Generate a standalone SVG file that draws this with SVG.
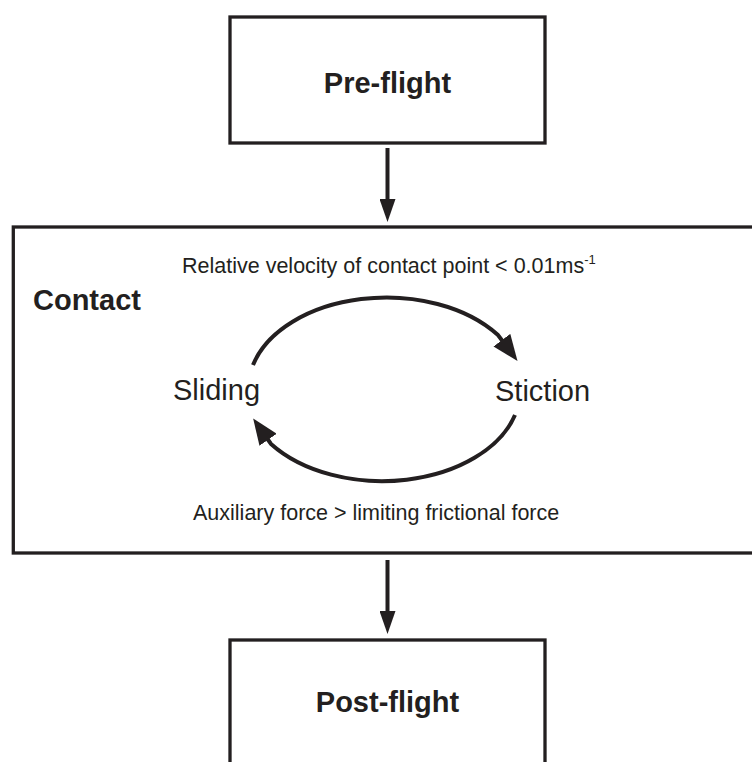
<svg xmlns="http://www.w3.org/2000/svg" width="752" height="762" viewBox="0 0 752 762">
<style>
  .box{fill:#ffffff;stroke:#231f20;stroke-width:3.3}
  .conn{fill:none;stroke:#231f20;stroke-width:4}
  .t{font-family:"Liberation Sans",Arial,Helvetica,sans-serif;fill:#231f20}
  .b{font-weight:bold;font-size:29px}
  .m{font-size:29px}
  .s{font-size:21.5px}
</style>
<defs>
  <marker id="ah" markerUnits="userSpaceOnUse" viewBox="0 0 23 16" markerWidth="23" markerHeight="16" refX="1" refY="8" orient="auto">
    <path d="M0,0 L23,8 L0,16 z" fill="#231f20"/>
  </marker>
  <marker id="ahc" markerUnits="userSpaceOnUse" viewBox="0 0 26 21" markerWidth="26" markerHeight="21" refX="1" refY="10.5" orient="auto">
    <path d="M0,0 L26,10.5 L0,21 z" fill="#231f20"/>
  </marker>
</defs>
<rect width="752" height="762" fill="#ffffff"/>
<g id="preflight">
  <rect class="box" x="230" y="17" width="315" height="126"/>
  <text class="t b" x="387.5" y="93" text-anchor="middle">Pre-flight</text>
</g>
<g id="contact">
  <rect class="box" x="13.3" y="227" width="742" height="326"/>
  <text class="t b" x="33" y="310">Contact</text>
  <text class="t s" x="182" y="273">Relative velocity of contact point &lt; 0.01ms<tspan font-size="13px" dy="-9">-1</tspan></text>
  <text class="t s" x="193" y="520">Auxiliary force &gt; limiting frictional force</text>
</g>
<g id="sliding">
  <text class="t m" x="173" y="400">Sliding</text>
</g>
<g id="stiction">
  <text class="t m" x="495" y="401">Stiction</text>
</g>
<g id="postflight">
  <rect class="box" x="230" y="640" width="315" height="140"/>
  <text class="t b" x="387.5" y="712" text-anchor="middle">Post-flight</text>
</g>
<g id="connectors">
  <line class="conn" x1="387.5" y1="148" x2="387.5" y2="200" marker-end="url(#ah)"/>
  <line class="conn" x1="387.5" y1="560" x2="387.5" y2="612" marker-end="url(#ah)"/>
  <path class="conn" d="M253,365 A138,91 0 0 1 498,335 L502.5,341" marker-end="url(#ahc)"/>
  <path class="conn" d="M515,415 A138,91 0 0 1 271,444 L267.5,439" marker-end="url(#ahc)"/>
</g>
</svg>
